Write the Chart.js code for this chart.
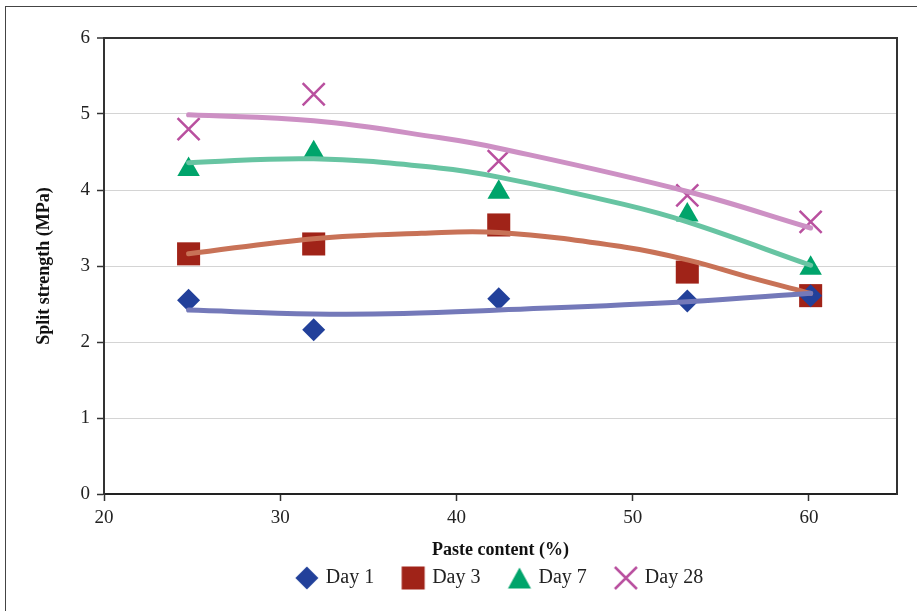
<!DOCTYPE html>
<html>
<head>
<meta charset="utf-8">
<script src="https://cdn.jsdelivr.net/npm/chart.js@4.4.1/dist/chart.umd.min.js"></script>
<style>
  html, body { margin: 0; padding: 0; background: #fff; overflow: hidden; }
  #wrap { position: relative; width: 917px; height: 611px; }
  #frame {
    position: absolute; left: 5px; top: 6px; width: 1000px; height: 1000px;
    border-left: 1.5px solid #444; border-top: 1.5px solid #444;
  }
  canvas { position: absolute; left: 0; top: 0; }
</style>
</head>
<body>
<div id="wrap">
  <div id="frame"></div>
  <canvas id="myChart" width="917" height="611"></canvas>
</div>
<script>
const FONT = "'Liberation Serif', 'DejaVu Serif', serif";

// paste content (%) of the five mixes
const paste = [24.8, 31.9, 42.4, 53.1, 60.1];

// measured split strength (MPa)
const day1 = [2.55, 2.16, 2.57, 2.54, 2.61];
const day3 = [3.16, 3.29, 3.54, 2.92, 2.61];
const day7 = [4.27, 4.49, 3.97, 3.67, 2.97];
const day28 = [4.80, 5.26, 4.38, 3.93, 3.58];

// trend lines
const trend1X = [24.8, 31.9, 37, 42.4, 53.1, 60.1];
const trend1Y = [2.42, 2.37, 2.375, 2.42, 2.53, 2.64];
const trend3X = [24.8, 31.9, 38, 42.4, 49.5, 53.1, 56.8, 60.1];
const trend3Y = [3.16, 3.36, 3.43, 3.44, 3.25, 3.08, 2.84, 2.64];
const trend7X = [24.8, 31.9, 39, 42.4, 49.5, 53.1, 60.1];
const trend7Y = [4.36, 4.41, 4.29, 4.17, 3.81, 3.58, 3.01];
const trend28X = [24.8, 31.9, 39, 42.4, 53.1, 60.1];
const trend28Y = [4.99, 4.91, 4.69, 4.55, 3.98, 3.50];

const labels = ["Day 1", "Day 3", "Day 7", "Day 28"];
const yTicks = [0, 1, 2, 3, 4, 5, 6];

const toPts = (xs, ys) => xs.map((x, i) => ({ x: x, y: ys[i] }));

// small canvases used as legend symbols
function legendIcon(kind, color) {
  const c = document.createElement("canvas");
  c.width = 26; c.height = 26;
  const g = c.getContext("2d");
  g.fillStyle = color; g.strokeStyle = color;
  g.beginPath();
  if (kind === "diamond") {
    g.moveTo(13, 1.5); g.lineTo(24.5, 13); g.lineTo(13, 24.5); g.lineTo(1.5, 13);
    g.closePath(); g.fill();
  } else if (kind === "square") {
    g.rect(1.5, 1.5, 23, 23); g.fill();
  } else if (kind === "triangle") {
    g.moveTo(13, 2.5); g.lineTo(24.5, 23.5); g.lineTo(1.5, 23.5);
    g.closePath(); g.fill();
  } else {
    g.lineWidth = 2.5;
    g.moveTo(2, 2); g.lineTo(24, 24); g.moveTo(24, 2); g.lineTo(2, 24);
    g.stroke();
  }
  return c;
}

const markerColors = ["#22409a", "#a02318", "#00a46b", "#b9509f"];
const trendColors = ["#7479b9", "#c87257", "#67c4a2", "#cd90c4"];
const icons = [
  legendIcon("diamond", markerColors[0]),
  legendIcon("square", markerColors[1]),
  legendIcon("triangle", markerColors[2]),
  legendIcon("cross", markerColors[3])
];

function markers(label, values, i, style, radius, extra) {
  return Object.assign({
    type: "scatter",
    label: label,
    data: toPts(paste, values),
    pointStyle: style,
    pointRadius: radius,
    pointHoverRadius: radius,
    backgroundColor: markerColors[i],
    borderColor: markerColors[i],
    borderWidth: 0,
    order: 1
  }, extra || {});
}

function trend(xs, ys, i) {
  return {
    type: "line",
    label: "trend" + i,
    data: toPts(xs, ys),
    borderColor: trendColors[i],
    borderWidth: 5,
    borderCapStyle: "round",
    pointRadius: 0,
    fill: false,
    tension: 0.4,
    order: 0
  };
}

const frame = {
  id: "frame",
  afterDraw(chart) {
    const { ctx, chartArea } = chart;
    ctx.save();
    ctx.strokeStyle = "#333";
    ctx.lineWidth = 2;
    ctx.beginPath();
    ctx.moveTo(chartArea.right, chartArea.top - 1);
    ctx.lineTo(chartArea.right, chartArea.bottom + 1);
    ctx.stroke();
    ctx.restore();
  }
};

new Chart("myChart", {
  data: {
    datasets: [
      markers(labels[0], day1, 0, "rectRot", 11.5),
      markers(labels[1], day3, 1, "rect", 16.3),
      markers(labels[2], day7, 2, "triangle", 13),
      markers(labels[3], day28, 3, "crossRot", 15.6, { borderWidth: 2.5 }),
      trend(trend1X, trend1Y, 0),
      trend(trend3X, trend3Y, 1),
      trend(trend7X, trend7Y, 2),
      trend(trend28X, trend28Y, 3)
    ]
  },
  options: {
    responsive: false,
    animation: false,
    events: [],
    layout: { padding: { top: 38, right: 20, bottom: 13, left: 0 } },
    plugins: {
      tooltip: { enabled: false },
      legend: {
        position: "bottom",
        fullSize: false,
        labels: {
          usePointStyle: true,
          pointStyleWidth: 18,
          padding: 30,
          color: "#222",
          font: { family: FONT, size: 20 },
          generateLabels: () => labels.map((t, i) => ({
            text: t,
            pointStyle: icons[i],
            datasetIndex: i,
            fontColor: "#222",
            lineWidth: 0,
            hidden: false
          }))
        }
      }
    },
    scales: {
      x: {
        type: "linear",
        min: 20,
        max: 65,
        afterFit: (s) => { s.height = 44; },
        ticks: {
          stepSize: 10,
          includeBounds: false,
          padding: 6,
          color: "#222",
          font: { family: FONT, size: 19 }
        },
        grid: { drawOnChartArea: false, tickLength: 7, tickColor: "#333", tickWidth: 1.5 },
        border: { color: "#222", width: 2 },
        title: {
          display: true,
          text: "Paste content (%)",
          color: "#111",
          font: { family: FONT, size: 18, weight: "bold" },
          padding: { top: 0, bottom: -22.8 }
        }
      },
      y: {
        min: 0,
        max: 6,
        afterFit: (s) => { s.width = 104; },
        afterBuildTicks: (s) => { s.ticks = yTicks.map((v) => ({ value: v })); },
        ticks: {
          padding: 7,
          color: "#222",
          font: { family: FONT, size: 19 }
        },
        grid: {
          color: (c) => (c.tick && (c.tick.value === 6 || c.tick.value === 0)) ? "#333" : "#d4d4d4",
          lineWidth: (c) => (c.tick && c.tick.value === 6) ? 2 : 1,
          tickLength: 7,
          tickColor: "#333",
          tickWidth: 1.5
        },
        border: { color: "#333", width: 2 },
        title: {
          display: true,
          text: "Split strength (MPa)",
          color: "#111",
          font: { family: FONT, size: 18, weight: "bold" },
          padding: { top: 34, bottom: 0 }
        }
      }
    }
  },
  plugins: [frame]
});
</script>
</body>
</html>
